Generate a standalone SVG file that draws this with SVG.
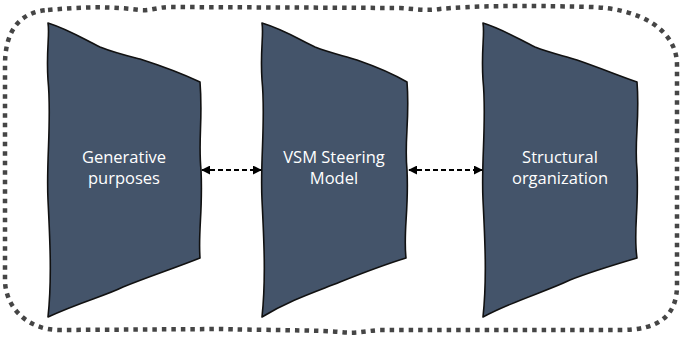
<svg xmlns="http://www.w3.org/2000/svg" width="685" height="341" viewBox="0 0 685 341">
<style>
.frame{fill:none;stroke:#454545;stroke-width:4.5;stroke-dasharray:4.5 5}
.node{fill:#44546A;stroke:#111;stroke-width:1.6;stroke-linejoin:round}
.lbl{font-family:"Open Sans","Liberation Sans",sans-serif;font-size:16.5px;fill:#fff;text-anchor:middle}
.conn{stroke:#000;stroke-width:1.8;stroke-dasharray:5 3;fill:none}
</style>
<defs>
<marker id="ah" viewBox="0 0 10 10" refX="9" refY="5" markerWidth="9" markerHeight="9" orient="auto-start-reverse" markerUnits="userSpaceOnUse">
<path d="M0,0 L10,5 L0,10 Z" fill="#000"/>
</marker>
</defs>
<path class="frame" d="M48,10 C80,7 110,6 140,10 C150,11 158,7 170,7 L400,8 C415,9 425,11 440,9 C470,6 520,5 590,7 C640,8 677,30 677,65 L677,285 C677,315 660,330 620,330 L380,330 C365,331 355,334 340,332 C320,330 250,330 220,329 L60,330 C25,330 5,305 5,280 L5,65 C5,30 20,12 48,10 Z"/>
<g id="node1">
<path class="node" d="M48,23 C70,30 85,40 100,47 C115,53 128,56 140,59 C165,67 183,74 200,82 C203,120 198,140 201,170 C203,210 198,232 200,258 C175,268 150,276 123,287 C105,296 80,302 48,317 C52,280 50,240 48,200 C46,160 52,120 48,80 C46,50 50,35 48,23 Z"/>
<text class="lbl" x="124" y="163">Generative</text>
<text class="lbl" x="124" y="184">purposes</text>
</g>
<g id="node2">
<path class="node" d="M262,23 C285,30 300,40 315,47 C330,53 345,56 357,60 C380,68 395,75 407,82 C410,120 404,140 407,170 C409,210 403,232 406,258 C380,266 360,274 340,282 C315,292 290,300 262,317 C266,280 264,240 262,200 C260,160 266,120 262,80 C260,50 264,35 262,23 Z"/>
<text class="lbl" x="334" y="163">VSM Steering</text>
<text class="lbl" x="334" y="184">Model</text>
</g>
<g id="node3">
<path class="node" d="M483,23 C505,30 520,40 535,47 C550,53 565,56 577,60 C600,68 620,76 637,82 C640,120 634,140 637,170 C639,210 633,232 637,258 C610,266 590,272 570,280 C545,292 515,300 483,317 C487,280 485,240 483,200 C481,160 487,120 483,80 C481,50 485,35 483,23 Z"/>
<text class="lbl" x="560" y="163">Structural</text>
<text class="lbl" x="560" y="184">organization</text>
</g>
<g id="connectors">
<line class="conn" x1="202" y1="170" x2="261" y2="170" marker-start="url(#ah)" marker-end="url(#ah)"/>
<line class="conn" x1="409" y1="170" x2="482" y2="170" marker-start="url(#ah)" marker-end="url(#ah)"/>
</g>
</svg>
